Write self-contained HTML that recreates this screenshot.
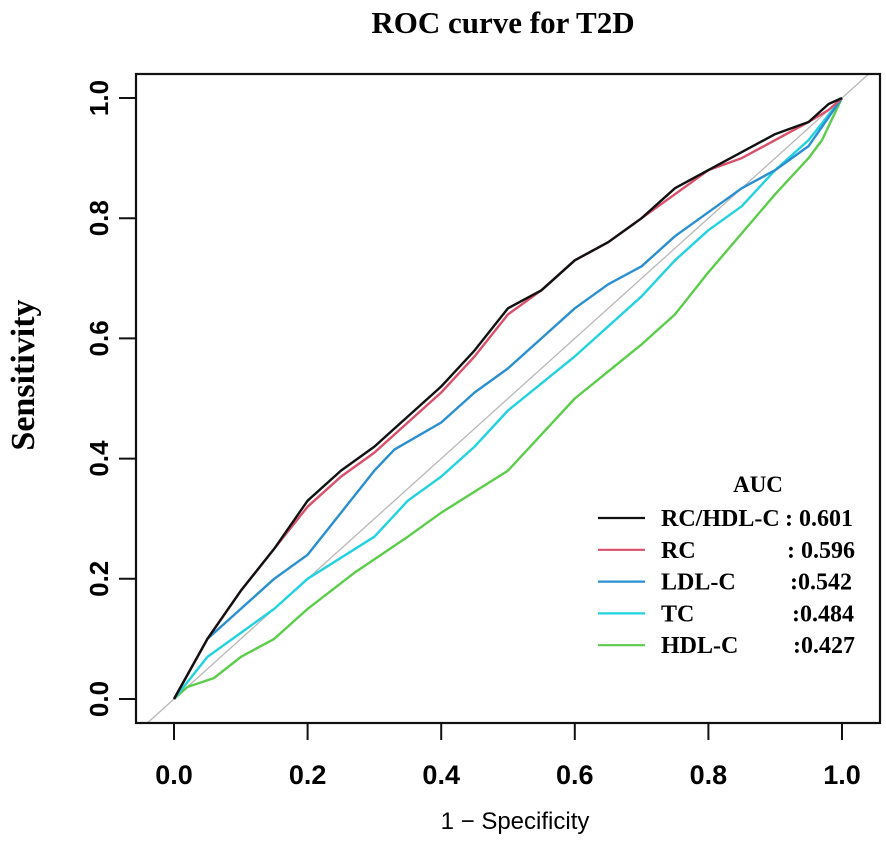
<!DOCTYPE html>
<html><head><meta charset="utf-8"><style>
body{margin:0;background:#fff;width:886px;height:837px;overflow:hidden}
</style></head><body>
<svg id="chart" width="886" height="837" xmlns="http://www.w3.org/2000/svg"></svg>
<script>
const xTicks=[0,0.2,0.4,0.6,0.8,1.0];
const yTicks=[0,0.2,0.4,0.6,0.8,1.0];
const seriesNames=["RC/HDL-C","RC","LDL-C","TC","HDL-C"];
const aucLabels=[": 0.601",": 0.596",":0.542",":0.484",":0.427"];
const colors=["#111111","#d9506a","#2a8fd0","#22d2e0","#5ccd4a"];
const fprRCHDL=[0,0.05,0.1,0.15,0.2,0.25,0.3,0.35,0.4,0.45,0.5,0.55,0.6,0.65,0.7,0.75,0.8,0.85,0.9,0.95,0.98,1];
const tprRCHDL=[0,0.1,0.18,0.25,0.33,0.38,0.42,0.47,0.52,0.58,0.65,0.68,0.73,0.76,0.8,0.85,0.88,0.91,0.94,0.96,0.99,1];
const fprRC=[0,0.05,0.1,0.15,0.2,0.25,0.3,0.35,0.4,0.45,0.5,0.55,0.6,0.65,0.7,0.75,0.8,0.85,0.9,0.95,0.98,1];
const tprRC=[0,0.1,0.18,0.25,0.32,0.37,0.41,0.46,0.51,0.57,0.64,0.68,0.73,0.76,0.8,0.84,0.88,0.9,0.93,0.96,0.98,1];
const fprLDL=[0,0.05,0.1,0.15,0.2,0.25,0.3,0.33,0.4,0.45,0.5,0.55,0.6,0.65,0.7,0.75,0.8,0.85,0.9,0.95,1];
const tprLDL=[0,0.1,0.15,0.2,0.24,0.31,0.38,0.415,0.46,0.51,0.55,0.6,0.65,0.69,0.72,0.77,0.81,0.85,0.88,0.92,1];
const fprTC=[0,0.05,0.1,0.15,0.2,0.3,0.35,0.4,0.45,0.5,0.6,0.7,0.75,0.8,0.85,0.9,0.95,1];
const tprTC=[0,0.07,0.11,0.15,0.2,0.27,0.33,0.37,0.42,0.48,0.57,0.67,0.73,0.78,0.82,0.88,0.93,1];
const fprHDL=[0,0.02,0.06,0.1,0.15,0.2,0.27,0.35,0.4,0.5,0.6,0.7,0.75,0.8,0.9,0.95,0.97,1];
const tprHDL=[0,0.02,0.035,0.07,0.1,0.15,0.21,0.27,0.31,0.38,0.5,0.59,0.64,0.71,0.84,0.9,0.93,1];
const fprs=[fprRCHDL,fprRC,fprLDL,fprTC,fprHDL];
const tprs=[tprRCHDL,tprRC,tprLDL,tprTC,tprHDL];

const svg=document.getElementById('chart');
const NS="http://www.w3.org/2000/svg";
const X0=174,X1=842,Y0=699,Y1=98;
const BL=136,BR=880,BT=74,BB=723;
function sx(v){return X0+(X1-X0)*v;}
function sy(v){return Y0-(Y0-Y1)*v;}
function mk(tag,attrs,parent){const e=document.createElementNS(NS,tag);for(const k in attrs)e.setAttribute(k,attrs[k]);(parent||svg).appendChild(e);return e;}

const title=mk('text',{x:503,y:33,'text-anchor':'middle','font-family':'Liberation Serif, serif','font-weight':'bold','font-size':31});
title.textContent='ROC curve for T2D';



const dLo=Math.max((BL-X0)/(X1-X0),(Y0-BB)/(Y0-Y1));
const dHi=Math.min((BR-X0)/(X1-X0),(Y0-BT)/(Y0-Y1));
const diag=mk('line',{x1:sx(dLo),y1:sy(dLo),x2:sx(dHi),y2:sy(dHi),stroke:'#b8b8b8','stroke-width':1.3});



for(let i=fprs.length-1;i>=0;i--){
  const pts=fprs[i].map((f,j)=>sx(f).toFixed(1)+','+sy(tprs[i][j]).toFixed(1)).join(' ');
  const pl=mk('polyline',{points:pts,fill:'none',stroke:colors[i],'stroke-width':2.4,'stroke-linejoin':'round'});
  
  
}

const box=mk('rect',{x:BL,y:BT,width:BR-BL,height:BB-BT,fill:'none',stroke:'#111','stroke-width':2.2});



const xg=mk('g',{});


mk('line',{x1:sx(0),y1:BB,x2:sx(1),y2:BB,stroke:'#111','stroke-width':2},xg);
xTicks.forEach(t=>{
  mk('line',{x1:sx(t),y1:BB,x2:sx(t),y2:BB+17,stroke:'#111','stroke-width':2},xg);
  const tx=mk('text',{x:sx(t),y:784,'text-anchor':'middle','font-family':'Liberation Sans, sans-serif','font-weight':'bold','font-size':27},xg);
  tx.textContent=t.toFixed(1);
  
  
});
const yg=mk('g',{});


yTicks.forEach(t=>{
  mk('line',{x1:BL,y1:sy(t),x2:BL-17,y2:sy(t),stroke:'#111','stroke-width':2},yg);
  const tx=mk('text',{x:0,y:0,'text-anchor':'middle','font-family':'Liberation Sans, sans-serif','font-weight':'bold','font-size':26,transform:`translate(108,${sy(t)}) rotate(-90)`},yg);
  tx.textContent=t.toFixed(1);
  
  
});
const xl=mk('text',{x:515,y:829,'text-anchor':'middle','font-family':'Liberation Sans, sans-serif','font-size':24});
xl.textContent='1 − Specificity';


const yl=mk('text',{x:0,y:0,'text-anchor':'middle','font-family':'Liberation Serif, serif','font-weight':'bold','font-size':34,transform:'translate(34,375) rotate(-90)'});
yl.textContent='Sensitivity';



const lg=mk('g',{});


const at=mk('text',{x:758,y:492,'text-anchor':'middle','font-family':'Liberation Serif, serif','font-weight':'bold','font-size':23},lg);
at.textContent='AUC';


const valX=[785,787,790,792,793];
seriesNames.forEach((n,i)=>{
  const yy=518+i*31.8;
  const ln=mk('line',{x1:598,y1:yy,x2:645,y2:yy,stroke:colors[i],'stroke-width':2.2},lg);
  
  
  const t1=mk('text',{x:661,y:yy+8,'font-family':'Liberation Serif, serif','font-weight':'bold','font-size':24},lg);
  t1.textContent=n;
  
  
  const t2=mk('text',{x:valX[i],y:yy+8,'font-family':'Liberation Serif, serif','font-weight':'bold','font-size':24},lg);
  t2.textContent=aucLabels[i];
  
  
});
</script>
</body></html>
